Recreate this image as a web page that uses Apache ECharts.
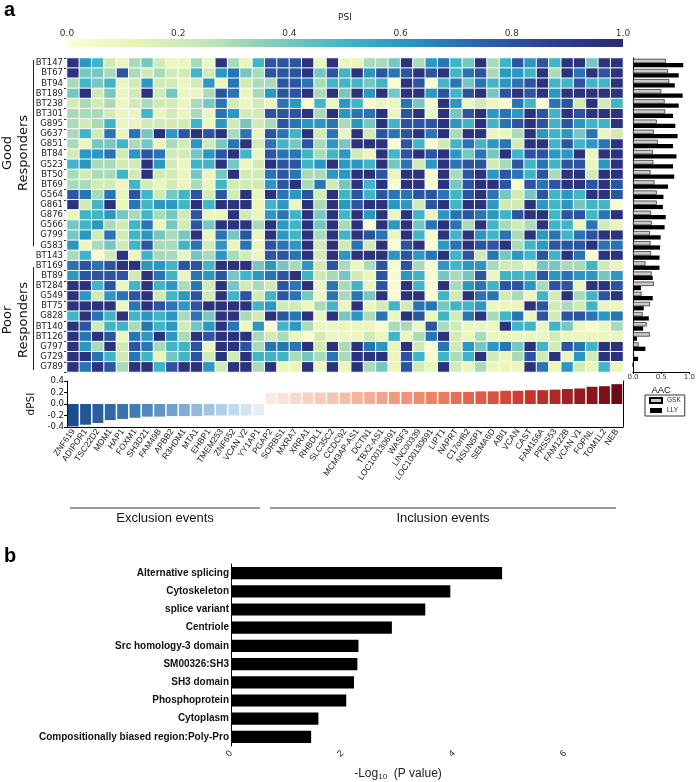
<!DOCTYPE html>
<html>
<head>
<meta charset="utf-8">
<script src="https://cdn.jsdelivr.net/npm/echarts@6/dist/echarts.min.js"></script>
<style>
  html, body { margin: 0; padding: 0; background: #fff; }
  #chart { width: 698px; height: 782px; }
</style>
</head>
<body>
<div id="chart"></div>
<script>
// splicing heatmap + dPSI + AAC, and the enrichment bars below

const genes = ['ZNF619', 'ADIPOR1', 'TSC22D2', 'MDM1', 'HAP1', 'FOXM1', 'SH3D21', 'FAM49B', 'APBB2', 'R3HDM1',
  'MTA1', 'EHBP1', 'TMEM253', 'ZNF652', 'VCAN V2', 'YY1AP1', 'PGAP2', 'SORBS1', 'MXRA7', 'XRRA1',
  'RHBDL1', 'SLC35C2', 'CCDC92', 'MCM3AP-AS1', 'DCTN1', 'TBX2-AS1', 'LOC100130691', 'WASF3', 'LINC00339',
  'LOC100130691', 'LIPT1', 'NAPRT', 'C17orf62', 'NSUN5P1', 'SEMA6D', 'ABI1', 'VCAN', 'CAST', 'FAM156A',
  'PRSS53', 'FAM122B', 'VCAN V1', 'FOPNL', 'TOM1L2', 'NEB']

const samples = ['BT147', 'BT67', 'BT94', 'BT189', 'BT238', 'BT301', 'G895', 'G637', 'G851', 'BT84', 'G523',
  'BT50', 'BT69', 'G564', 'G861', 'G876', 'G566', 'G799', 'G583', 'BT143', 'BT169', 'BT89', 'BT284',
  'G549', 'BT75', 'G828', 'BT140', 'BT126', 'G797', 'G729', 'G789']

// PSI, one row per sample, one value per gene
const psiRows = [
  [.95,.6,.5,.2,.1,.3,.4,.2,.1,.1,.3,.1,.95,.3,.1,.5,.8,.8,.8,.95,.1,.95,.1,.1,.3,.3,.4,.95,.3,.6,.7,.5,.4,.95,.3,.5,.8,.6,.8,.5,.95,.95,.4,.95,.95],
  [.95,.4,.4,.3,.8,.3,.2,.3,.2,.2,.5,.2,.6,.7,.4,.3,.8,.8,.8,.95,.4,.8,.5,.95,.6,.8,.7,.8,.95,.8,.95,.5,.7,.8,.3,.6,.6,.5,.95,.3,.95,.7,.95,.8,.95],
  [.3,.5,.4,.5,.1,.2,.6,.2,.2,.1,.2,.6,.1,.7,.2,.3,.3,.8,.8,.7,.3,.5,.5,.5,.4,.5,.03,.95,.8,.03,.5,.7,.4,.7,.5,.6,.7,.8,.95,.5,.5,.8,.5,.5,.95],
  [.4,.95,.2,.4,.1,.2,.95,.2,.4,.1,.1,.3,.8,.7,.1,.3,.6,.8,.8,.95,.3,.95,.4,.95,.6,.95,.4,.95,.95,.6,.8,.5,.8,.95,.4,.8,.95,.8,.95,.6,.95,.95,.95,.95,.95],
  [.2,.3,.2,.3,.1,.2,.3,.2,.2,.1,.3,.4,.7,.2,.1,.2,.1,.7,.6,.03,.5,.1,.6,.5,.03,.1,.1,.7,.4,.03,.95,.6,.1,.2,.1,.03,.7,.5,.03,.7,.8,.2,.95,.2,.5],
  [.3,.3,.3,.2,.1,.1,.5,.1,.2,.1,.3,.1,.7,.6,.2,.2,.8,.8,.8,.95,.3,.95,.6,.7,.7,.95,.1,.8,.95,.1,.95,.4,.8,.95,.6,.7,.6,.95,.8,.5,.95,.8,.95,.95,.95],
  [.3,.2,.3,.5,.1,.1,.2,.2,.2,.2,.5,.1,.6,.2,.4,.2,.3,.8,.7,.6,.6,.7,.3,.6,.4,.95,.5,.8,.8,.8,.95,.6,.5,.95,.5,.7,.8,.95,.8,.5,.8,.6,.5,.5,.95],
  [.3,.5,.2,.7,.1,.7,.4,.95,.6,.8,.95,.8,.95,.3,.7,.1,.8,.7,.5,.95,.2,.7,.1,.95,.2,.8,.7,.8,.95,.7,.95,.3,.95,.95,.1,.1,.3,.95,.6,.5,.6,.4,.7,.1,.2],
  [.3,.1,.4,.4,.5,.3,.4,.1,.3,.2,.6,.2,.4,.7,.95,.2,.7,.5,.4,.8,.3,.6,.4,.95,.95,.95,.03,.8,.5,.03,.2,.5,.7,.5,.6,.7,.2,.95,.95,.5,.8,.5,.6,.7,.95],
  [.2,.6,.6,.7,.2,.6,.8,.7,.2,.2,.4,.6,.8,.95,.5,.1,.8,.7,.7,.5,.3,.5,.6,.2,.1,.95,.5,.8,.95,.8,.95,.6,.4,.7,.4,.95,.5,.8,.8,.6,.6,.95,.1,.95,.95],
  [.5,.6,.3,.3,.2,.2,.95,.6,.2,.1,.5,.5,.95,.4,.1,.2,.95,.8,.8,.5,.6,.95,.6,.6,.5,.95,.4,.7,.2,.6,.95,.7,.8,.8,.2,.3,.8,.5,.7,.5,.8,.8,.1,.6,.95],
  [.3,.2,.3,.3,.5,.2,.95,.2,.2,.1,.4,.1,.4,.95,.2,.2,.7,.8,.7,.3,.3,.6,.6,.95,.95,.8,.1,.95,.95,.03,.95,.3,.8,.95,.6,.8,.7,.5,.8,.3,.95,.95,.2,.95,.95],
  [.3,.3,.2,.2,.1,.5,.2,.1,.2,.1,.3,.1,.5,.2,.2,.2,.6,.8,.95,.3,.7,.2,.4,.95,.5,.95,.03,.95,.95,.03,.95,.4,.8,.95,.95,.8,.03,.8,.7,.8,.95,.95,.8,.95,.8],
  [.8,.7,.3,.7,.1,.8,.5,.2,.4,.5,.8,.2,.8,.2,.95,.1,.95,.7,.6,.8,.2,.95,.5,.8,.5,.8,.7,.7,.8,.8,.7,.5,.8,.95,.7,.4,.2,.4,.8,.5,.6,.5,.95,.95,.8],
  [.95,.2,.5,.95,.1,.7,.5,.6,.6,.5,.95,.5,.95,.95,.95,.1,.5,.6,.1,.95,.3,.95,.6,.8,.95,.95,.6,.6,.2,.8,.95,.5,.95,.95,.6,.2,.2,.95,.6,.5,.6,.4,.5,.5,.03],
  [.1,.5,.5,.6,.4,.3,.5,.3,.4,.2,.8,.1,.1,.95,.2,.1,.6,.7,.5,.95,.4,.95,.5,.95,.6,.95,.1,.95,.5,.1,.6,.7,.8,.7,.6,.5,.8,.95,.95,.5,.8,.8,.5,.7,.95],
  [.4,.5,.6,.3,.2,.5,.7,.1,.4,.2,.8,.4,.95,.95,.95,.3,.95,.6,.5,.95,.4,.95,.3,.95,.03,.95,.6,.95,.4,.7,.95,.7,.3,.95,.5,.3,.2,.3,.95,.5,.5,.1,.7,.2,.1],
  [.4,.6,.2,.7,.2,.5,.6,.4,.3,.4,.95,.1,.7,.4,.8,.1,.95,.6,.5,.95,.3,.95,.5,.95,.8,.7,.1,.95,.5,.03,.95,.5,.95,.6,.5,.7,.3,.95,.6,.7,.5,.7,.8,.95,.95],
  [.6,.1,.3,.4,.2,.5,.8,.3,.3,.5,.7,.2,.6,.1,.7,.1,.8,.7,.6,.95,.2,.95,.2,.7,.2,.95,.03,.8,.95,.03,.6,.7,.95,.8,.8,.95,.3,.5,.6,.8,.8,.8,.95,.7,.7],
  [.3,.5,.03,.2,.95,.1,.5,.3,.3,.1,.4,.3,.6,.3,.2,.1,.8,.8,.7,.95,.2,.95,.6,.95,.95,.95,.6,.8,.6,.7,.95,.5,.8,.2,.7,.4,.6,.5,.8,.5,.95,.7,.03,.95,.95],
  [.7,.8,.7,.8,.95,.95,.6,.6,.5,.8,.8,.5,.95,.95,.95,.4,.6,.4,.3,.6,.2,.8,.3,.1,.3,.8,.03,.8,.3,.03,.6,.5,.6,.6,.3,.2,.2,.1,.4,.4,.3,.3,.5,.2,.1],
  [.6,.8,.8,.8,.8,.2,.95,.7,.5,.1,.7,.6,.8,.4,.5,.6,.7,.8,.95,.5,.2,.3,.4,.2,.1,.8,.03,.6,.5,.03,.4,.3,.4,.8,.1,.5,.5,.5,.8,.6,.7,.6,.6,.4,.6],
  [.95,.95,.5,.8,.1,.5,.95,.5,.6,.3,.7,.2,.95,.4,.2,.3,.2,.8,.7,.95,.1,.7,.3,.5,.1,.8,.03,.95,.5,.03,.95,.3,.6,.7,.5,.8,.8,.6,.3,.8,.8,.1,.95,.95,.8],
  [.95,.6,.2,.6,.7,.8,.95,.2,.5,.6,.8,.2,.95,.5,.8,.2,.5,.8,.7,.4,.1,.7,.3,.7,.4,.95,.03,.95,.95,.03,.5,.2,.95,.7,.7,.2,.3,.1,.5,.2,.95,.3,.5,.8,.95],
  [.95,.95,.95,.95,.1,.7,.95,.8,.7,.6,.8,.95,.95,.95,.95,.5,.6,.2,.2,.1,.3,.5,.1,.95,.1,.2,.5,.2,.7,.7,.4,.5,.5,.6,.1,.1,.1,.95,.8,.2,.3,.2,.5,.1,.1],
  [.5,.95,.7,.5,.95,.5,.6,.5,.6,.3,.7,.4,.95,.95,.3,.2,.95,.8,.7,.95,.1,.95,.4,.6,.3,.7,.1,.95,.8,.1,.5,.2,.7,.95,.3,.5,.7,.1,.8,.2,.8,.8,.7,.6,.7],
  [.95,.8,.2,.5,.5,.3,.7,.5,.6,.2,.4,.6,.95,.7,.1,.6,.03,.5,.6,.3,.1,.1,.1,.1,.1,.03,.3,.3,.1,.8,.3,.2,.1,.1,.1,.95,.5,.5,.1,.5,.4,.1,.03,.1,.3],
  [.95,.7,.95,.8,.1,.7,.6,.95,.6,.3,.95,.8,.95,.95,.95,.3,.2,.3,.1,.03,.2,.1,.1,.1,.2,.1,.5,.1,.3,.7,.95,.2,.1,.3,.1,.1,.1,.1,.1,.2,.1,.1,.1,.1,.1],
  [.95,.6,.3,.95,.2,.8,.7,.3,.5,.5,.8,.1,.95,.95,.8,.3,.7,.7,.7,.95,.2,.95,.3,.95,.7,.6,.1,.95,.2,.03,.7,.2,.6,.4,.6,.7,.4,.95,.5,.2,.8,.7,.5,.95,.95],
  [.95,.95,.7,.5,.2,.7,.5,.1,.4,.5,.8,.2,.95,.2,.95,.5,.5,.5,.3,.4,.3,.7,.3,.95,.95,.95,.1,.8,.5,.03,.5,.3,.5,.95,.2,.1,.3,.8,.2,.95,.1,.6,.2,.95,.95],
  [.95,.7,.95,.8,.3,.95,.95,.5,.8,.95,.95,.6,.2,.95,.95,.3,.95,.1,.1,.95,.1,.95,.1,.95,.3,.4,.1,.8,.2,.1,.95,.2,.1,.3,.1,.1,.1,.95,.7,.1,.6,.2,.1,.5,.1]
]

const dpsi = [-0.39, -0.36, -0.33, -0.28, -0.26, -0.24, -0.22, -0.22, -0.21, -0.21, -0.21, -0.2, -0.2, -0.2, -0.2, -0.2,
  0.19, 0.195, 0.195, 0.2, 0.2, 0.2, 0.2, 0.21, 0.21, 0.21, 0.21, 0.21, 0.21, 0.21, 0.21, 0.21, 0.21,
  0.22, 0.22, 0.23, 0.23, 0.24, 0.24, 0.25, 0.26, 0.27, 0.30, 0.31, 0.345]

const aacGSK = [0.58, 0.62, 0.64, 0.50, 0.56, 0.57, 0.42, 0.37, 0.44, 0.35, 0.36, 0.31, 0.38, 0.42, 0.42, 0.32,
  0.33, 0.30, 0.31, 0.32, 0.22, 0.33, 0.37, 0.15, 0.30, 0.17, 0.24, 0.30, 0.10, 0.02, 0]
const aacLLY = [0.89, 0.81, 0.74, 0.88, 0.81, 0.71, 0.75, 0.79, 0.71, 0.77, 0.71, 0.73, 0.62, 0.54, 0.53, 0.58,
  0.56, 0.49, 0.48, 0.47, 0.47, 0.35, 0.14, 0.35, 0.19, 0.28, 0.18, 0.07, 0.22, 0.09, 0]

const terms = ['Alternative splicing', 'Cytoskeleton', 'splice variant', 'Centriole', 'Src homology-3 domain',
  'SM00326:SH3', 'SH3 domain', 'Phosphoprotein', 'Cytoplasm', 'Compositionally biased region:Poly-Pro']
const logP = [4.87, 3.94, 3.49, 2.89, 2.29, 2.27, 2.21, 2.07, 1.57, 1.44]

const psiColors = ['#fcfdd6', '#e6f4b4', '#c3e5b5', '#82cbbd', '#41b5c5', '#2791c0', '#2b63aa', '#2c3f93', '#2a2b6c']
const blueSteps = ['#1c4c8c', '#3f7cb8', '#8fbad9', '#e6eff8']
const redSteps = ['#fde9e1', '#f6b49b', '#eb7a5e', '#c8342c', '#6e0a14']

function hex(c) { return [1, 3, 5].map(i => parseInt(c.slice(i, i + 2), 16)) }
function ramp(steps, t) {
  const p = Math.max(0, Math.min(1, t)) * (steps.length - 1)
  const i = Math.min(Math.floor(p), steps.length - 2)
  const a = hex(steps[i]), b = hex(steps[i + 1]), f = p - i
  return 'rgb(' + a.map((v, k) => Math.round(v + (b[k] - v) * f)).join(',') + ')'
}

const nNeg = dpsi.filter(v => v < 0).length
const heatData = []
psiRows.forEach((row, r) => row.forEach((v, c) => heatData.push([c, r, v])))

const barGradient = new echarts.graphic.LinearGradient(0, 0, 1, 0,
  psiColors.map((c, i) => ({ offset: i / (psiColors.length - 1), color: c })))

const chart = echarts.init(document.getElementById('chart'), null, { renderer: 'canvas' })

const axisBlack = { lineStyle: { color: '#000', width: 1 } }
const option = {
  animation: false,
  backgroundColor: '#fff',
  textStyle: { fontFamily: 'DejaVu Sans' },
  grid: [
    { left: 67, top: 39, width: 556, height: 8 },
    { left: 67, top: 58, width: 556, height: 314 },
    { left: 633, top: 58, width: 58, height: 314 },
    { left: 67, top: 381, width: 556, height: 46 },
    { left: 231, top: 564, width: 334, height: 185 }
  ],
  visualMap: {
    show: false, seriesIndex: 1, min: 0, max: 1,
    inRange: { color: psiColors }
  },
  legend: {
    data: ['GSK', 'LLY'], orient: 'vertical', left: 645, top: 395,
    itemWidth: 12, itemHeight: 5, itemGap: 3, padding: [2, 4],
    borderColor: '#000', borderWidth: 0.8, icon: 'rect',
    textStyle: { fontSize: 6.5, color: '#222', fontFamily: 'Liberation Sans' }
  },
  xAxis: [
    {
      gridIndex: 0, type: 'value', min: 0, max: 1, interval: 0.2, position: 'top',
      name: 'PSI', nameLocation: 'middle', nameGap: 17, nameTextStyle: { fontSize: 9, color: '#222' },
      axisLine: { show: false }, axisTick: { length: 2, lineStyle: { color: '#555' } }, splitLine: { show: false },
      axisLabel: { fontSize: 9, color: '#333', margin: 1, formatter: v => v.toFixed(1) }
    },
    {
      gridIndex: 1, type: 'category', data: genes,
      axisLine: { show: false }, axisTick: { show: false }, axisLabel: { show: false }
    },
    {
      gridIndex: 2, type: 'value', min: 0, max: 1, interval: 0.5,
      name: 'AAC', nameLocation: 'middle', nameGap: 13, nameTextStyle: { fontSize: 9.5, color: '#111', fontFamily: 'Liberation Sans' },
      axisLine: { show: true, ...axisBlack }, axisTick: { show: true, length: 2, ...axisBlack },
      splitLine: { show: false },
      axisLabel: { fontSize: 7, color: '#333', margin: 2, formatter: v => v.toFixed(1) }
    },
    {
      gridIndex: 3, type: 'category', data: genes,
      axisLine: { onZero: false, ...axisBlack }, axisTick: { show: false },
      axisLabel: { interval: 0, rotate: 55, fontSize: 8.5, margin: 3, color: '#222', fontFamily: 'Liberation Sans' }
    },
    {
      gridIndex: 4, type: 'value', min: 0, max: 6, interval: 2,
      name: '-Log{sub|10}  (P value)', nameLocation: 'middle', nameGap: 21,
      nameTextStyle: {
        fontSize: 12, color: '#222', fontFamily: 'Liberation Sans',
        rich: { sub: { fontSize: 8, verticalAlign: 'bottom', padding: [6, 0, 0, 0], fontFamily: 'Liberation Sans' } }
      },
      axisLine: axisBlack, axisTick: { length: 4, ...axisBlack }, splitLine: { show: false },
      axisLabel: { rotate: 45, fontSize: 9, color: '#222', margin: 6, fontFamily: 'Liberation Sans' }
    }
  ],
  yAxis: [
    { gridIndex: 0, type: 'category', data: ['PSI'], show: false },
    {
      gridIndex: 1, type: 'category', data: samples, inverse: true,
      axisLine: { show: false }, axisTick: { show: true, interval: 0, length: 3, lineStyle: { color: '#333' } },
      axisLabel: { interval: 0, fontSize: 8.5, color: '#222', margin: 4 }
    },
    {
      gridIndex: 2, type: 'category', data: samples, inverse: true,
      axisLine: { show: true, ...axisBlack }, axisTick: { show: false }, axisLabel: { show: false }
    },
    {
      gridIndex: 3, type: 'value', min: -0.4, max: 0.4, interval: 0.2,
      name: 'dPSI', nameLocation: 'middle', nameGap: 25, nameRotate: 90,
      nameTextStyle: { fontSize: 10.5, color: '#111' },
      axisLine: { show: true, ...axisBlack }, axisTick: { show: true, length: 3, ...axisBlack },
      splitLine: { show: false },
      axisLabel: { fontSize: 8.5, color: '#222', margin: 3, formatter: v => v.toFixed(1) }
    },
    {
      gridIndex: 3, type: 'value', min: -0.4, max: 0.4, interval: 0.2, position: 'right',
      axisLine: { show: true, ...axisBlack }, axisTick: { show: false }, axisLabel: { show: false },
      splitLine: { show: false }
    },
    {
      gridIndex: 4, type: 'category', data: terms, inverse: true,
      axisLine: axisBlack, axisTick: { length: 3, alignWithLabel: true, ...axisBlack },
      axisLabel: { interval: 0, fontSize: 10, fontWeight: 'bold', color: '#111', margin: 2, fontFamily: 'Liberation Sans' }
    }
  ],
  series: [
    {
      type: 'custom', xAxisIndex: 0, yAxisIndex: 0, data: [[0, 0]], silent: true,
      renderItem: (params, api) => {
        const a = api.coord([0, 0])
        const b = api.coord([1, 0])
        const h = api.size([0, 1])[1]
        return { type: 'rect', shape: { x: a[0], y: a[1] - h / 2, width: b[0] - a[0], height: h }, style: { fill: barGradient } }
      }
    },
    {
      type: 'heatmap', xAxisIndex: 1, yAxisIndex: 1, data: heatData,
      itemStyle: { borderColor: '#fff', borderWidth: 1 }
    },
    {
      name: 'GSK', type: 'bar', xAxisIndex: 2, yAxisIndex: 2, data: aacGSK,
      barGap: '0%', barCategoryGap: '16%',
      itemStyle: { color: '#c9c9c9', borderColor: '#000', borderWidth: 0.6 }
    },
    {
      name: 'LLY', type: 'bar', xAxisIndex: 2, yAxisIndex: 2, data: aacLLY,
      barGap: '0%', barCategoryGap: '16%',
      itemStyle: { color: '#000' }
    },
    {
      type: 'bar', xAxisIndex: 3, yAxisIndex: 3, data: dpsi, barCategoryGap: '12%',
      itemStyle: {
        color: p => p.value < 0
          ? ramp(blueSteps, p.dataIndex / (nNeg - 1))
          : ramp(redSteps, (p.dataIndex - nNeg) / (dpsi.length - nNeg - 1))
      }
    },
    {
      type: 'bar', xAxisIndex: 4, yAxisIndex: 5, data: logP, barCategoryGap: '33%',
      itemStyle: { color: '#000' }
    }
  ],
  graphic: [
    { type: 'text', left: 4, top: 0, style: { text: 'a', font: 'bold 20px "Liberation Sans"', fill: '#000' } },
    { type: 'text', left: 4, top: 546, style: { text: 'b', font: 'bold 20px "Liberation Sans"', fill: '#000' } },
    { type: 'text', x: 16, y: 153, rotation: Math.PI / 2,
      style: { text: 'Good\nResponders', font: '13px "DejaVu Sans"', fill: '#111', align: 'center', verticalAlign: 'middle', lineHeight: 16 } },
    { type: 'text', x: 16, y: 320, rotation: Math.PI / 2,
      style: { text: 'Poor\nResponders', font: '13px "DejaVu Sans"', fill: '#111', align: 'center', verticalAlign: 'middle', lineHeight: 16 } },
    { type: 'line', shape: { x1: 33.5, y1: 60, x2: 33.5, y2: 246 }, style: { stroke: '#222', lineWidth: 1 } },
    { type: 'line', shape: { x1: 33.5, y1: 267, x2: 33.5, y2: 370 }, style: { stroke: '#222', lineWidth: 1 } },
    { type: 'line', shape: { x1: 70, y1: 508, x2: 260, y2: 508 }, style: { stroke: '#333', lineWidth: 1 } },
    { type: 'line', shape: { x1: 270, y1: 508, x2: 616, y2: 508 }, style: { stroke: '#333', lineWidth: 1 } },
    { type: 'text', x: 165, y: 518,
      style: { text: 'Exclusion events', font: '13px "Liberation Sans"', fill: '#111', align: 'center', verticalAlign: 'middle' } },
    { type: 'text', x: 443, y: 518,
      style: { text: 'Inclusion events', font: '13px "Liberation Sans"', fill: '#111', align: 'center', verticalAlign: 'middle' } }
  ]
}

option && chart.setOption(option)
</script>
</body>
</html>
